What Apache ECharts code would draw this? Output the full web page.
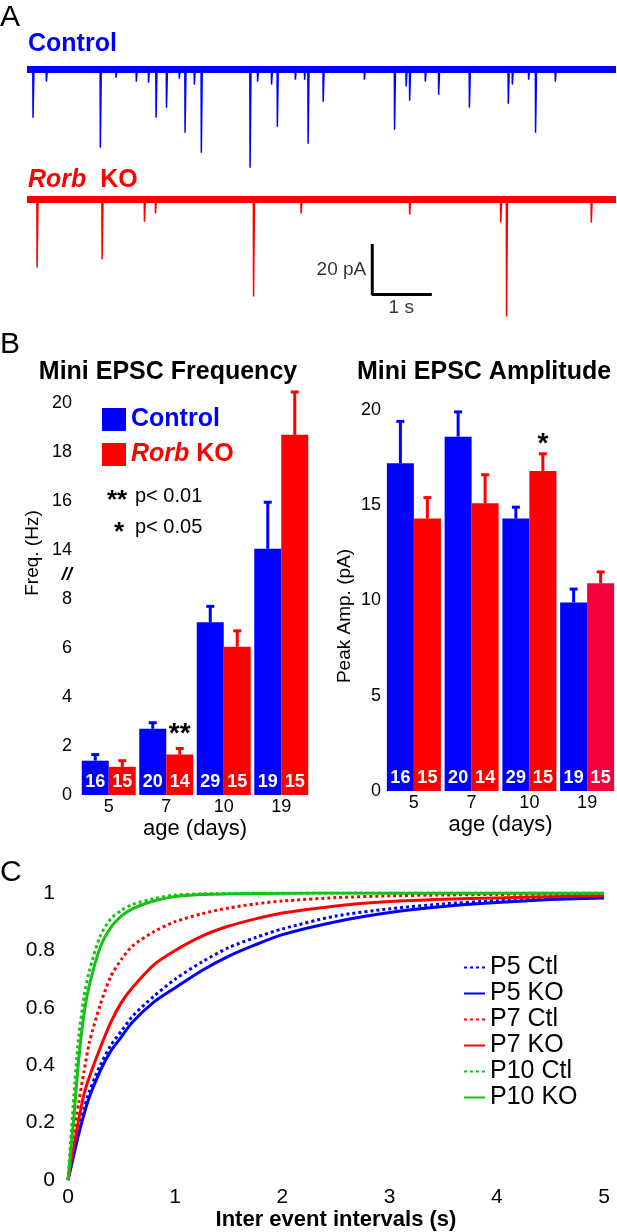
<!DOCTYPE html>
<html>
<head>
<meta charset="utf-8">
<script src="https://cdn.jsdelivr.net/npm/echarts@6/dist/echarts.min.js"></script>
<style>
  html, body { margin: 0; padding: 0; background: #fff; }
  #fig { width: 617px; height: 1232px; }
</style>
</head>
<body>
<div id="fig"></div>
<script>
// panel A - example traces, events (time s, amplitude pA)
var traceEnd = 10.15;
var ctlEventT = [0.10, 0.33, 1.26, 1.53, 1.88, 2.09, 2.22, 2.40, 2.62, 2.72, 2.88, 3.00, 3.84, 3.97, 4.21, 4.31,
  4.62, 4.78, 4.84, 5.10, 5.81, 6.33, 6.53, 6.59, 6.86, 7.09, 7.62, 8.29, 8.36, 8.64, 8.76, 9.10];
var ctlEventAmp = [19.6, 4.9, 31.8, 3.3, 4.9, 5.3, 19.6, 15.5, 3.7, 25.7, 6.1, 33.9, 40.0, 4.9, 6.1, 23.3,
  4.1, 4.1, 30.2, 13.1, 4.1, 24.5, 6.9, 12.7, 4.9, 10.2, 15.5, 13.9, 6.1, 4.1, 25.7, 4.9];
var koEventT = [0.17, 1.29, 2.02, 2.21, 3.90, 4.72, 6.59, 8.16, 8.26, 9.72];
var koEventAmp = [27.8, 24.5, 9.0, 5.7, 39.6, 5.7, 6.1, 9.4, 47.8, 9.4];
var scaleBarCorner = [5.95, -38.8]; // s, pA
var scaleBarSize = [1, 20];          // 1 s, 20 pA

// panel B - mini EPSC frequency / amplitude
var ageDays = ['5', '7', '10', '19'];
var freqCtl = [1.4, 2.7, 7.05, 14.05];
var freqCtlSem = [0.25, 0.25, 0.65, 1.9];
var freqKo = [1.15, 1.65, 6.05, 18.7];
var freqKoSem = [0.25, 0.25, 0.65, 1.75];
var ampCtl = [17.2, 18.6, 14.3, 9.9];
var ampCtlSem = [2.2, 1.3, 0.6, 0.7];
var ampKo = [14.3, 15.1, 16.8, 10.9];
var ampKoSem = [1.1, 1.5, 0.9, 0.6];
var nCtl = [16, 20, 29, 19];
var nKo = [15, 14, 15, 15];
var freqSig = ['', '**', '', ''];
var ampSig = ['', '', '*', ''];
// broken frequency axis: 8 jumps to 14
var freqTickLabels = ['0', '', '2', '', '4', '', '6', '', '8', '{brk|//}', '14', '', '16', '', '18', '', '20'];
var breakLow = 8, breakHigh = 14;

// panel C - cumulative inter event intervals
var ieiX = [0, 0.05, 0.1, 0.15, 0.2, 0.3, 0.4, 0.5, 0.6, 0.8, 1.0, 1.25, 1.5, 1.75, 2.0, 2.5, 3.0, 3.5, 4.0, 4.5, 5.0];
var p5Ctl = [0, 0.09, 0.18, 0.25, 0.31, 0.40, 0.47, 0.52, 0.57, 0.64, 0.70, 0.76, 0.81, 0.845, 0.875, 0.92, 0.945, 0.962, 0.973, 0.98, 0.985];
var p5Ko = [0, 0.08, 0.16, 0.23, 0.29, 0.38, 0.45, 0.50, 0.55, 0.62, 0.67, 0.73, 0.78, 0.82, 0.855, 0.90, 0.932, 0.953, 0.967, 0.977, 0.983];
var p7Ctl = [0, 0.14, 0.27, 0.38, 0.48, 0.61, 0.71, 0.77, 0.815, 0.865, 0.90, 0.928, 0.948, 0.962, 0.972, 0.984, 0.99, 0.993, 0.995, 0.996, 0.997];
var p7Ko = [0, 0.11, 0.21, 0.30, 0.36, 0.46, 0.55, 0.62, 0.67, 0.75, 0.80, 0.85, 0.885, 0.91, 0.93, 0.955, 0.97, 0.978, 0.983, 0.987, 0.99];
var p10Ctl = [0, 0.27, 0.50, 0.64, 0.73, 0.85, 0.91, 0.94, 0.96, 0.98, 0.993, 0.997, 0.998, 0.999, 0.999, 1, 1, 1, 1, 1, 1];
var p10Ko = [0, 0.20, 0.42, 0.58, 0.68, 0.81, 0.88, 0.92, 0.945, 0.972, 0.988, 0.995, 0.997, 0.998, 0.999, 1, 1, 1, 1, 1, 1];

var FONT = 'Liberation Sans, Arial, sans-serif';
var BLUE = '#0000ff', RED = '#ff0000', GREEN = '#14c314';

function buildTrace(times, amps) {
  var pts = [[0, 0]];
  times.forEach(function (t, i) {
    pts.push([t, 0], [t + 0.004, -amps[i]], [t + 0.02, 0]);
  });
  pts.push([traceEnd, 0]);
  return pts;
}

function freqPlot(v) {
  // values above the break are drawn shifted down so 14 sits one tick above 8
  return v >= breakHigh ? v - (breakHigh - breakLow - 2) : v;
}

function errData(mean, sem, plot) {
  return mean.map(function (m, i) { return [i, plot(m), plot(m + sem[i])]; });
}

function errSeries(grid, data, offset, color, sig, lift) {
  return {
    type: 'custom', xAxisIndex: grid, yAxisIndex: grid, data: data, z: 5, silent: true,
    encode: { x: 0, y: [1, 2] },
    renderItem: function (params, api) {
      var i = api.value(0);
      var top = api.coord([i, api.value(1)]);
      var hi = api.coord([i, api.value(2)]);
      var x = top[0] + offset;
      var kids = [
        { type: 'line', shape: { x1: x, y1: top[1], x2: x, y2: hi[1] }, style: { stroke: color, lineWidth: 3 } },
        { type: 'line', shape: { x1: x - 4, y1: hi[1], x2: x + 4, y2: hi[1] }, style: { stroke: color, lineWidth: 3 } }
      ];
      if (sig[params.dataIndex]) {
        kids.push({ type: 'text', x: x, y: hi[1] - lift,
          style: { text: sig[params.dataIndex], fill: '#000', font: 'bold 28px ' + FONT, align: 'center', verticalAlign: 'middle' } });
      }
      return { type: 'group', children: kids };
    }
  };
}

function barSeries(grid, name, values, counts, color) {
  return {
    type: 'bar', name: name, xAxisIndex: grid, yAxisIndex: grid, data: values,
    barWidth: 27, barGap: '0%', itemStyle: { color: color },
    label: { show: true, position: 'insideBottom', distance: 4, color: '#fff', fontWeight: 'bold', fontSize: 18, fontFamily: FONT,
      formatter: function (p) { return counts[p.dataIndex]; } }
  };
}

function cdfSeries(name, ys, color, dotted) {
  return {
    type: 'line', name: name, xAxisIndex: 4, yAxisIndex: 4, symbol: 'none', smooth: 0.25,
    data: ieiX.map(function (x, i) { return [x, ys[i]]; }),
    lineStyle: { color: color, width: 3, type: dotted ? [3, 3] : 'solid' }, itemStyle: { color: color }
  };
}

var hidden = { show: false };
var barX = function (grid) {
  return { type: 'category', gridIndex: grid, data: ageDays, axisLine: hidden, axisTick: hidden,
    axisLabel: { color: '#000', fontSize: 18, fontFamily: FONT, margin: 3 },
    name: 'age (days)', nameLocation: 'middle', nameGap: 23, nameTextStyle: { color: '#000', fontSize: 22, fontFamily: FONT } };
};

var chart = echarts.init(document.getElementById('fig'), null, { renderer: 'canvas' });

chart.setOption({
  animation: false,
  backgroundColor: '#fff',
  grid: [
    { left: 27, top: 50, width: 589, height: 130 },
    { left: 27, top: 180, width: 589, height: 142 },
    { left: 80, top: 403, width: 230, height: 392 },
    { left: 385, top: 410, width: 231, height: 381 },
    { left: 68, top: 893, width: 536, height: 290 }
  ],
  xAxis: [
    { type: 'value', gridIndex: 0, min: 0, max: traceEnd, show: false },
    { type: 'value', gridIndex: 1, min: 0, max: traceEnd, show: false },
    barX(2),
    barX(3),
    { type: 'value', gridIndex: 4, min: 0, max: 5, interval: 1, axisLine: hidden, axisTick: hidden, splitLine: hidden,
      axisLabel: { color: '#000', fontSize: 21, fontFamily: FONT, margin: 7 },
      name: 'Inter event intervals (s)', nameLocation: 'middle', nameGap: 26,
      nameTextStyle: { color: '#000', fontSize: 22, fontWeight: 'bold', fontFamily: FONT } }
  ],
  yAxis: [
    { type: 'value', gridIndex: 0, min: -45, max: 8, show: false },
    { type: 'value', gridIndex: 1, min: -50, max: 8, show: false },
    { type: 'value', gridIndex: 2, min: 0, max: 16, interval: 1, axisLine: hidden, axisTick: hidden, splitLine: hidden,
      axisLabel: { color: '#000', fontSize: 18, fontFamily: FONT, margin: 8,
        formatter: function (v) { return freqTickLabels[v] || ''; },
        rich: { brk: { fontSize: 19, fontWeight: 'bold', fontStyle: 'italic', fontFamily: FONT, color: '#000' } } } },
    { type: 'value', gridIndex: 3, min: 0, max: 20, interval: 5, axisLine: hidden, axisTick: hidden, splitLine: hidden,
      axisLabel: { color: '#000', fontSize: 18, fontFamily: FONT, margin: 4 } },
    { type: 'value', gridIndex: 4, min: 0, max: 1, interval: 0.2, axisLine: hidden, axisTick: hidden, splitLine: hidden,
      axisLabel: { color: '#000', fontSize: 21, fontFamily: FONT, margin: 13 } }
  ],
  legend: [
    { left: 102, top: 407, orient: 'vertical', icon: 'rect', itemWidth: 24, itemHeight: 23, itemGap: 10, padding: 0,
      selectedMode: false,
      data: [{ name: 'Control', textStyle: { color: BLUE } }, { name: 'Rorb KO', textStyle: { color: RED } }],
      formatter: function (name) { return name === 'Rorb KO' ? '{i|Rorb} KO' : name; },
      textStyle: { fontSize: 25, fontWeight: 'bold', fontFamily: FONT,
        rich: { i: { fontSize: 25, fontWeight: 'bold', fontStyle: 'italic', fontFamily: FONT, color: RED } } } },
    { left: 463, top: 955, orient: 'vertical', itemWidth: 21, itemHeight: 14, itemGap: 1, padding: 0, selectedMode: false,
      itemStyle: { color: 'transparent', borderWidth: 0, opacity: 0 },
      data: ['P5 Ctl', 'P5 KO', 'P7 Ctl', 'P7 KO', 'P10 Ctl', 'P10 KO'],
      textStyle: { fontSize: 25, color: '#000', fontFamily: FONT } }
  ],
  graphic: [
    { type: 'text', x: 0, y: 18, style: { text: 'A', font: '30px ' + FONT, fill: '#000', verticalAlign: 'middle' } },
    { type: 'text', x: 28, y: 44, style: { text: 'Control', font: 'bold 25px ' + FONT, fill: BLUE, verticalAlign: 'middle' } },
    { type: 'text', x: 28, y: 180, style: { text: '{i|Rorb}  KO', font: 'bold 25px ' + FONT, fill: RED, verticalAlign: 'middle',
      rich: { i: { fontStyle: 'italic', fontWeight: 'bold', fontSize: 25, fontFamily: FONT, fill: RED } } } },
    { type: 'text', x: 0, y: 345, style: { text: 'B', font: '30px ' + FONT, fill: '#000', verticalAlign: 'middle' } },
    { type: 'text', x: 168, y: 372, style: { text: 'Mini EPSC Frequency', font: 'bold 25px ' + FONT, fill: '#000', align: 'center', verticalAlign: 'middle' } },
    { type: 'text', x: 484, y: 372, style: { text: 'Mini EPSC Amplitude', font: 'bold 25px ' + FONT, fill: '#000', align: 'center', verticalAlign: 'middle' } },
    { type: 'text', x: 107, y: 501, style: { text: '**', font: 'bold 26px ' + FONT, fill: '#000', verticalAlign: 'middle' } },
    { type: 'text', x: 135, y: 496, style: { text: 'p< 0.01', font: '20px ' + FONT, fill: '#000', verticalAlign: 'middle' } },
    { type: 'text', x: 114, y: 533, style: { text: '*', font: 'bold 26px ' + FONT, fill: '#000', verticalAlign: 'middle' } },
    { type: 'text', x: 135, y: 527, style: { text: 'p< 0.05', font: '20px ' + FONT, fill: '#000', verticalAlign: 'middle' } },
    { type: 'text', x: 33, y: 553, rotation: Math.PI / 2, style: { text: 'Freq. (Hz)', font: '19px ' + FONT, fill: '#000', align: 'center', verticalAlign: 'middle' } },
    { type: 'text', x: 345, y: 616, rotation: Math.PI / 2, style: { text: 'Peak Amp. (pA)', font: '19px ' + FONT, fill: '#000', align: 'center', verticalAlign: 'middle' } },
    { type: 'text', x: 0, y: 873, style: { text: 'C', font: '30px ' + FONT, fill: '#000', verticalAlign: 'middle' } }
  ],
  series: [
    // panel A
    { type: 'line', xAxisIndex: 0, yAxisIndex: 0, symbol: 'none', silent: true, data: [[0, 0], [traceEnd, 0]],
      lineStyle: { color: BLUE, width: 7 } },
    { type: 'line', xAxisIndex: 0, yAxisIndex: 0, symbol: 'none', silent: true, data: buildTrace(ctlEventT, ctlEventAmp),
      lineStyle: { color: BLUE, width: 1.5 } },
    { type: 'line', xAxisIndex: 1, yAxisIndex: 1, symbol: 'none', silent: true, data: [[0, 0], [traceEnd, 0]],
      lineStyle: { color: RED, width: 7 } },
    { type: 'line', xAxisIndex: 1, yAxisIndex: 1, symbol: 'none', silent: true, data: buildTrace(koEventT, koEventAmp),
      lineStyle: { color: RED, width: 1.5 } },
    { type: 'line', xAxisIndex: 1, yAxisIndex: 1, symbol: 'none', silent: true,
      data: [[scaleBarCorner[0], scaleBarCorner[1] + scaleBarSize[1]], scaleBarCorner, [scaleBarCorner[0] + scaleBarSize[0], scaleBarCorner[1]]],
      lineStyle: { color: '#000', width: 3, cap: 'square' } },
    { type: 'scatter', xAxisIndex: 1, yAxisIndex: 1, symbolSize: 0, silent: true,
      data: [
        { value: [scaleBarCorner[0], scaleBarCorner[1] + scaleBarSize[1] / 2], label: { position: 'left', distance: 6, formatter: scaleBarSize[1] + ' pA' } },
        { value: [scaleBarCorner[0] + scaleBarSize[0] / 2, scaleBarCorner[1]], label: { position: 'bottom', distance: 4, formatter: scaleBarSize[0] + ' s' } }
      ],
      label: { show: true, color: '#000', fontSize: 19, fontFamily: FONT } },
    // panel B frequency
    barSeries(2, 'Control', freqCtl.map(freqPlot), nCtl, BLUE),
    barSeries(2, 'Rorb KO', freqKo.map(freqPlot), nKo, RED),
    errSeries(2, errData(freqCtl, freqCtlSem, freqPlot), -13.5, BLUE, ['', '', '', ''], 0),
    errSeries(2, errData(freqKo, freqKoSem, freqPlot), 13.5, RED, freqSig, 14.5),
    // panel B amplitude
    barSeries(3, 'Control', ampCtl, nCtl, BLUE),
    (function () {
      var s = barSeries(3, 'Rorb KO', ampKo, nKo, RED);
      s.itemStyle = { color: function (p) { return p.dataIndex === 3 ? '#f5003d' : RED; } };
      return s;
    })(),
    errSeries(3, errData(ampCtl, ampCtlSem, function (v) { return v; }), -13.5, BLUE, ['', '', '', ''], 0),
    errSeries(3, errData(ampKo, ampKoSem, function (v) { return v; }), 13.5, RED, ampSig, 9.5),
    // panel C
    cdfSeries('P5 KO', p5Ko, BLUE, false),
    cdfSeries('P5 Ctl', p5Ctl, BLUE, true),
    cdfSeries('P7 KO', p7Ko, RED, false),
    cdfSeries('P7 Ctl', p7Ctl, RED, true),
    cdfSeries('P10 KO', p10Ko, GREEN, false),
    cdfSeries('P10 Ctl', p10Ctl, GREEN, true)
  ]
});
</script>
</body>
</html>
